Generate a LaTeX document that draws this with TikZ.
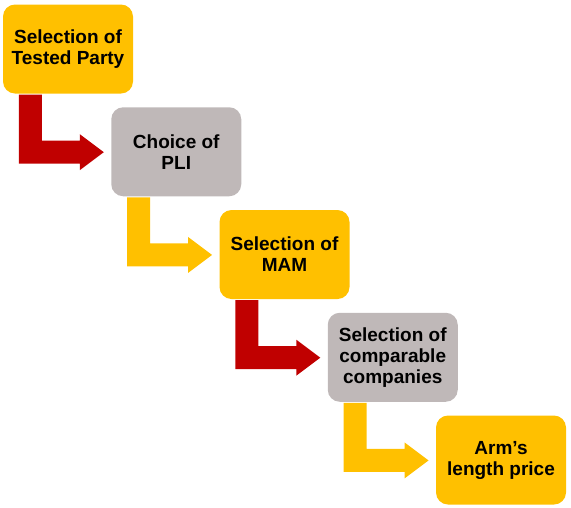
\documentclass[tikz,border=0pt]{standalone}
\usepackage{fontspec}
\setmainfont{Liberation Sans}
\definecolor{boxyellow}{HTML}{FFC000}
\definecolor{boxgray}{HTML}{BFB8B8}
\definecolor{arrred}{HTML}{C00000}
\tikzset{
  stepbox/.style={rounded corners=12pt, minimum width=130pt, minimum height=89pt, inner sep=0pt, align=center,
    font=\fontsize{19}{21}\selectfont\bfseries, text=black},
  ybox/.style={stepbox, fill=boxyellow},
  gbox/.style={stepbox, fill=boxgray},
  larrow/.style={draw=none}
}
\newcommand{\elbow}[2]{%
  \fill[#2] ([xshift=16pt,yshift=-1pt]#1.south west) -- ++(23pt,0) -- ++(0,-46pt) -- ++(38pt,0) -- ++(0,6.5pt)
    -- ++(24pt,-18pt) -- ++(-24pt,-18pt) -- ++(0,6.5pt) -- ++(-61pt,0) -- cycle;}
\begin{document}
\begin{tikzpicture}
\useasboundingbox (0,0) rectangle (571pt,-507pt);
\node[ybox] (b1) at (68pt,-49pt) {Selection of\\Tested Party};
\node[gbox] (b2) at (176.25pt,-151.75pt) {Choice of\\PLI};
\node[ybox] (b3) at (284.5pt,-254.5pt) {Selection of\\MAM};
\node[gbox] (b4) at (392.75pt,-357.25pt) {Selection of\\comparable\\companies};
\node[ybox] (b5) at (501pt,-460pt) {Arm’s\\length price};
\elbow{b1}{arrred}
\elbow{b2}{boxyellow}
\elbow{b3}{arrred}
\elbow{b4}{boxyellow}
\end{tikzpicture}
\end{document}
